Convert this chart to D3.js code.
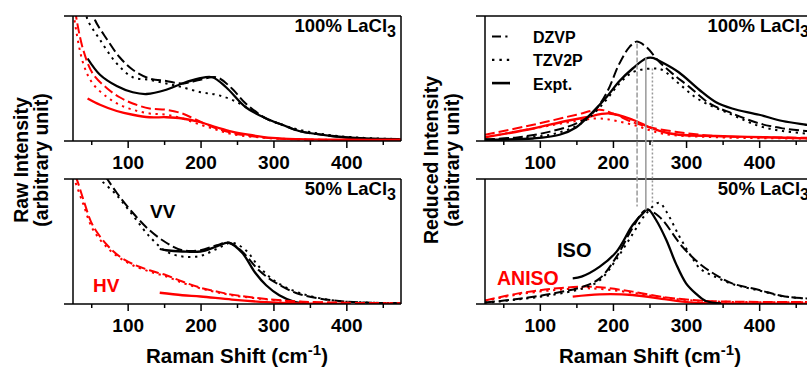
<!DOCTYPE html>
<html>
<head>
<meta charset="utf-8">
<script src="https://cdn.jsdelivr.net/npm/d3@7"></script>
<style>
  body { margin: 0; background: #fff; }
  text { font-family: "Liberation Sans", Arial, sans-serif; font-weight: bold; }
</style>
</head>
<body>
<div id="chart"></div>
<script>
// tick values (Raman shift, cm-1)
const majorTicks = [100, 200, 300, 400];
const minorTicks = [50, 150, 250, 350, 450];

// --- raw intensity, 100% LaCl3 ---
const raw100VVdzvp = [[50,1.08],[55,0.97],[72,0.81],[89,0.67],[107,0.57],[130,0.50],[153,0.48],[175,0.46],[200,0.49],[222,0.51],[243,0.42],[262,0.30],[290,0.18],[312,0.13],[335,0.08],[380,0.04],[425,0.02],[475,0.012]];
const raw100VVtzv = [[42,1.05],[45,0.97],[62,0.81],[85,0.62],[107,0.51],[130,0.49],[153,0.46],[175,0.43],[200,0.39],[222,0.37],[243,0.33],[266,0.26],[290,0.18],[312,0.13],[335,0.09],[380,0.045],[425,0.025],[475,0.015]];
const raw100VVexpt = [[45,0.66],[62,0.53],[85,0.44],[107,0.39],[126,0.376],[153,0.41],[175,0.46],[198,0.50],[216,0.51],[235,0.43],[262,0.27],[290,0.18],[312,0.13],[335,0.08],[380,0.04],[425,0.02],[471,0.015]];
const raw100HVdzvp = [[28,1.05],[30,0.97],[39,0.73],[52,0.54],[72,0.42],[89,0.35],[107,0.30],[130,0.26],[153,0.25],[175,0.22],[194,0.17],[222,0.10],[243,0.065],[290,0.025],[340,0.012],[400,0.008],[475,0.006]];
const raw100HVtzv = [[26,1.02],[27,0.97],[39,0.62],[52,0.46],[72,0.35],[89,0.29],[107,0.25],[130,0.22],[153,0.21],[175,0.18],[200,0.13],[222,0.09],[243,0.055],[290,0.025],[340,0.012],[400,0.008],[475,0.006]];
const raw100HVexpt = [[45,0.34],[62,0.29],[85,0.24],[107,0.21],[130,0.19],[153,0.19],[175,0.18],[200,0.15],[222,0.11],[243,0.075],[266,0.05],[298,0.025],[335,0.015],[400,0.01],[475,0.01]];

// --- raw intensity, 50% LaCl3 ---
const raw50VVdzvp = [[70,1.02],[72,1.0],[85,0.89],[107,0.73],[130,0.59],[153,0.49],[175,0.43],[200,0.43],[222,0.47],[239,0.49],[257,0.42],[280,0.27],[303,0.17],[335,0.08],[380,0.03],[425,0.012],[475,0.006]];
const raw50VVtzv = [[60,1.02],[62,1.0],[85,0.87],[107,0.71],[130,0.54],[153,0.42],[175,0.38],[200,0.385],[222,0.44],[243,0.49],[262,0.43],[280,0.30],[303,0.18],[335,0.09],[380,0.03],[425,0.012],[475,0.006]];
const raw50VVexpt = [[144,0.44],[153,0.43],[175,0.42],[200,0.42],[222,0.46],[239,0.49],[257,0.41],[275,0.25],[290,0.15],[308,0.07],[330,0.015],[345,0.004]];
const raw50HVdzvp = [[28,1.02],[30,1.0],[39,0.84],[52,0.63],[72,0.47],[89,0.38],[107,0.32],[130,0.27],[153,0.23],[175,0.18],[200,0.13],[222,0.10],[243,0.075],[290,0.04],[335,0.02],[400,0.01],[475,0.006]];
const raw50HVtzv = [[26,1.02],[28,0.98],[39,0.80],[52,0.60],[72,0.45],[89,0.37],[107,0.31],[130,0.26],[153,0.22],[175,0.17],[200,0.125],[222,0.095],[243,0.07],[290,0.037],[335,0.018],[400,0.009],[475,0.005]];
const raw50HVexpt = [[144,0.09],[175,0.07],[200,0.06],[243,0.035],[290,0.015],[335,0.005],[400,0.002]];

// --- reduced intensity, 100% LaCl3 ---
const red100ISOdzvp = [[25,0.013],[69,0.029],[114,0.075],[150,0.141],[172,0.221],[191,0.381],[209,0.621],[223,0.755],[232,0.795],[245,0.755],[263,0.635],[281,0.541],[304,0.435],[332,0.301],[363,0.221],[400,0.141],[432,0.101],[464,0.08],[475,0.075]];
const red100ISOtzv = [[25,0.01],[69,0.025],[114,0.05],[150,0.12],[172,0.21],[191,0.33],[209,0.46],[227,0.55],[254,0.58],[267,0.57],[290,0.46],[318,0.33],[363,0.21],[400,0.12],[432,0.08],[464,0.06],[475,0.055]];
const red100ISOexpt = [[25,0.01],[91,0.02],[127,0.05],[150,0.11],[172,0.23],[191,0.35],[209,0.48],[227,0.58],[245,0.66],[254,0.665],[267,0.63],[290,0.55],[318,0.41],[341,0.31],[363,0.26],[400,0.21],[432,0.16],[464,0.13],[475,0.12]];
const red100ANdzvp = [[25,0.05],[91,0.13],[150,0.21],[182,0.25],[200,0.22],[227,0.15],[250,0.11],[290,0.07],[340,0.04],[408,0.03],[475,0.025]];
const red100ANtzv = [[25,0.03],[91,0.10],[150,0.16],[182,0.18],[227,0.13],[267,0.06],[340,0.03],[475,0.02]];
const red100ANexpt = [[25,0.03],[91,0.10],[136,0.16],[163,0.19],[195,0.22],[227,0.17],[250,0.11],[267,0.075],[290,0.05],[340,0.04],[408,0.03],[475,0.02]];

// --- reduced intensity, 50% LaCl3 ---
const red50ISOdzvp = [[25,0.011],[69,0.04],[114,0.08],[159,0.139],[182,0.205],[205,0.379],[227,0.61],[245,0.752],[263,0.70],[295,0.458],[318,0.325],[341,0.232],[363,0.165],[400,0.112],[432,0.064],[464,0.045],[475,0.042]];
const red50ISOtzv = [[25,0.01],[69,0.035],[114,0.07],[159,0.125],[182,0.19],[205,0.36],[227,0.56],[245,0.72],[263,0.81],[273,0.74],[290,0.55],[305,0.40],[320,0.28],[341,0.215],[363,0.16],[400,0.108],[432,0.062],[475,0.04]];
const red50ISOexpt = [[145,0.205],[157,0.219],[182,0.299],[205,0.419],[227,0.632],[241,0.725],[248,0.757],[259,0.672],[273,0.512],[286,0.325],[300,0.165],[313,0.085],[327,0.024],[348,0.005]];
const red50ANdzvp = [[25,0.028],[69,0.083],[114,0.12],[159,0.139],[182,0.134],[227,0.099],[273,0.053],[318,0.028],[363,0.019],[475,0.015]];
const red50ANtzv = [[25,0.025],[69,0.075],[114,0.108],[159,0.125],[182,0.12],[227,0.09],[273,0.048],[318,0.025],[363,0.017],[475,0.013]];
const red50ANexpt = [[145,0.059],[182,0.077],[227,0.072],[273,0.037],[309,0.011],[348,0.005],[475,0.003]];

// peak markers: [raman shift, value in top panel, value in bottom panel, method]
const peakLines = [[233, 0.78, 0.78, "dzvp"], [245, 0.67, 0.75, "expt"], [254, 0.58, 0.80, "tzv"]];

const dashes = { dzvp: "10,4", tzv: "2.3,4.6", expt: null };
const legendItems = [["dzvp", "DZVP"], ["tzv", "TZV2P"], ["expt", "Expt."]];

const W = 807, H = 368;
const svg = d3.select("#chart").append("svg").attr("width", W).attr("height", H);

const colX = [[73, 401], [485, 814]];
const rowY = [[141, 16], [304, 179]];

function drawPanel(col, row, series, label, id) {
  const x = d3.scaleLinear().domain([25, 475]).range(colX[col]);
  const y = d3.scaleLinear().domain([0, 1]).range(rowY[row]);
  const g = svg.append("g");

  svg.append("clipPath").attr("id", id)
    .append("rect")
    .attr("x", x(25)).attr("y", y(1))
    .attr("width", x(475) - x(25)).attr("height", y(0) - y(1));

  const line = d3.line().x(d => x(d[0])).y(d => y(d[1])).curve(d3.curveCatmullRom.alpha(0.5));

  const plot = g.append("g").attr("clip-path", `url(#${id})`);
  series.forEach(s => {
    plot.append("path")
      .attr("d", line(s.data))
      .attr("fill", "none")
      .attr("stroke", s.color)
      .attr("stroke-width", s.method === "expt" ? 2.3 : 2)
      .attr("stroke-dasharray", dashes[s.method]);
  });

  // frame
  g.append("line").attr("x1", x(25) - 9).attr("x2", x(475)).attr("y1", y(0)).attr("y2", y(0))
    .attr("stroke", "#000").attr("stroke-width", 1.5);
  g.append("line").attr("x1", x(25) - 9).attr("x2", x(475)).attr("y1", y(1)).attr("y2", y(1))
    .attr("stroke", "#000").attr("stroke-width", 1.5);
  g.append("line").attr("x1", x(25)).attr("x2", x(25)).attr("y1", y(0)).attr("y2", y(1))
    .attr("stroke", "#000").attr("stroke-width", 1.5);
  g.append("line").attr("x1", x(475)).attr("x2", x(475)).attr("y1", y(0)).attr("y2", y(1))
    .attr("stroke", "#000").attr("stroke-width", 1.5);

  const ax = g.append("g").attr("transform", `translate(0,${y(0)})`)
    .call(d3.axisBottom(x).tickValues(majorTicks).tickSize(7).tickPadding(8).tickFormat(d3.format("d")));
  ax.select(".domain").remove();
  ax.selectAll("line").attr("stroke-width", 1.5);
  ax.selectAll("text").style("font-size", "19px").attr("fill", "#000");

  const axm = g.append("g").attr("transform", `translate(0,${y(0)})`)
    .call(d3.axisBottom(x).tickValues(minorTicks).tickSize(4).tickFormat(""));
  axm.select(".domain").remove();
  axm.selectAll("line").attr("stroke-width", 1.5);

  const t = g.append("text").attr("x", x(475) - 5).attr("y", y(1) + 15.5)
    .attr("text-anchor", "end").style("font-size", "18.5px");
  t.append("tspan").text(label + " LaCl");
  t.append("tspan").attr("dy", 5).style("font-size", "16px").text("3");

  return { x, y, g };
}

const black = "#000", red = "#ff0000";
const mk = (data, color, method) => ({ data, color, method });

const p1 = drawPanel(0, 0, [
  mk(raw100VVdzvp, black, "dzvp"), mk(raw100VVtzv, black, "tzv"), mk(raw100VVexpt, black, "expt"),
  mk(raw100HVdzvp, red, "dzvp"), mk(raw100HVtzv, red, "tzv"), mk(raw100HVexpt, red, "expt")
], "100%", "c1");
const p2 = drawPanel(0, 1, [
  mk(raw50VVdzvp, black, "dzvp"), mk(raw50VVtzv, black, "tzv"), mk(raw50VVexpt, black, "expt"),
  mk(raw50HVdzvp, red, "dzvp"), mk(raw50HVtzv, red, "tzv"), mk(raw50HVexpt, red, "expt")
], "50%", "c2");
const p3 = drawPanel(1, 0, [
  mk(red100ANdzvp, red, "dzvp"), mk(red100ANtzv, red, "tzv"), mk(red100ANexpt, red, "expt"),
  mk(red100ISOdzvp, black, "dzvp"), mk(red100ISOtzv, black, "tzv"), mk(red100ISOexpt, black, "expt")
], "100%", "c3");
const p4 = drawPanel(1, 1, [
  mk(red50ANdzvp, red, "dzvp"), mk(red50ANtzv, red, "tzv"), mk(red50ANexpt, red, "expt"),
  mk(red50ISOdzvp, black, "dzvp"), mk(red50ISOtzv, black, "tzv"), mk(red50ISOexpt, black, "expt")
], "50%", "c4");

// gray peak lines spanning both reduced panels
peakLines.forEach(([px, vTop, vBot, m]) => {
  svg.append("line")
    .attr("x1", p3.x(px)).attr("x2", p3.x(px))
    .attr("y1", p3.y(vTop)).attr("y2", p4.y(vBot))
    .attr("stroke", "#999").attr("stroke-width", 1.5)
    .attr("stroke-dasharray", m === "dzvp" ? "5,2" : m === "tzv" ? "2,2" : null);
});

// legend
legendItems.forEach(([m, name], i) => {
  const base = 43 + i * 23.3;
  svg.append("line").attr("x1", 492).attr("x2", m === "dzvp" ? 507.5 : 510)
    .attr("y1", base - 6.5).attr("y2", base - 6.5)
    .attr("stroke", "#000").attr("stroke-width", m === "expt" ? 2.6 : 2.2)
    .attr("stroke-dasharray", m === "dzvp" ? "9,4.3" : m === "tzv" ? "2.4,5" : null);
  svg.append("text").attr("x", 533).attr("y", base).style("font-size", "16px").text(name);
});

// in-plot labels
svg.append("text").attr("x", 150).attr("y", 218).style("font-size", "19px").text("VV");
svg.append("text").attr("x", 93).attr("y", 292).style("font-size", "19px").attr("fill", red).text("HV");
svg.append("text").attr("x", 557).attr("y", 257).style("font-size", "20px").text("ISO");
svg.append("text").attr("x", 497).attr("y", 285).style("font-size", "19.5px").attr("fill", red).text("ANISO");

// axis titles
[237, 650].forEach(cx => {
  const t = svg.append("text").attr("x", cx).attr("y", 363).attr("text-anchor", "middle").style("font-size", "20.5px");
  t.append("tspan").text("Raman Shift (cm");
  t.append("tspan").attr("dy", -8).style("font-size", "15px").text("-1");
  t.append("tspan").attr("dy", 8).text(")");
});

function yTitle(xb1, xb2, l1) {
  svg.append("text").attr("transform", `translate(${xb1},160) rotate(-90)`)
    .attr("text-anchor", "middle").style("font-size", "19.5px").text(l1);
  svg.append("text").attr("transform", `translate(${xb2},160) rotate(-90)`)
    .attr("text-anchor", "middle").style("font-size", "19.5px").text("(arbitrary unit)");
}
yTitle(28, 48, "Raw Intensity");
yTitle(438, 459, "Reduced Intensity");
</script>
</body>
</html>
